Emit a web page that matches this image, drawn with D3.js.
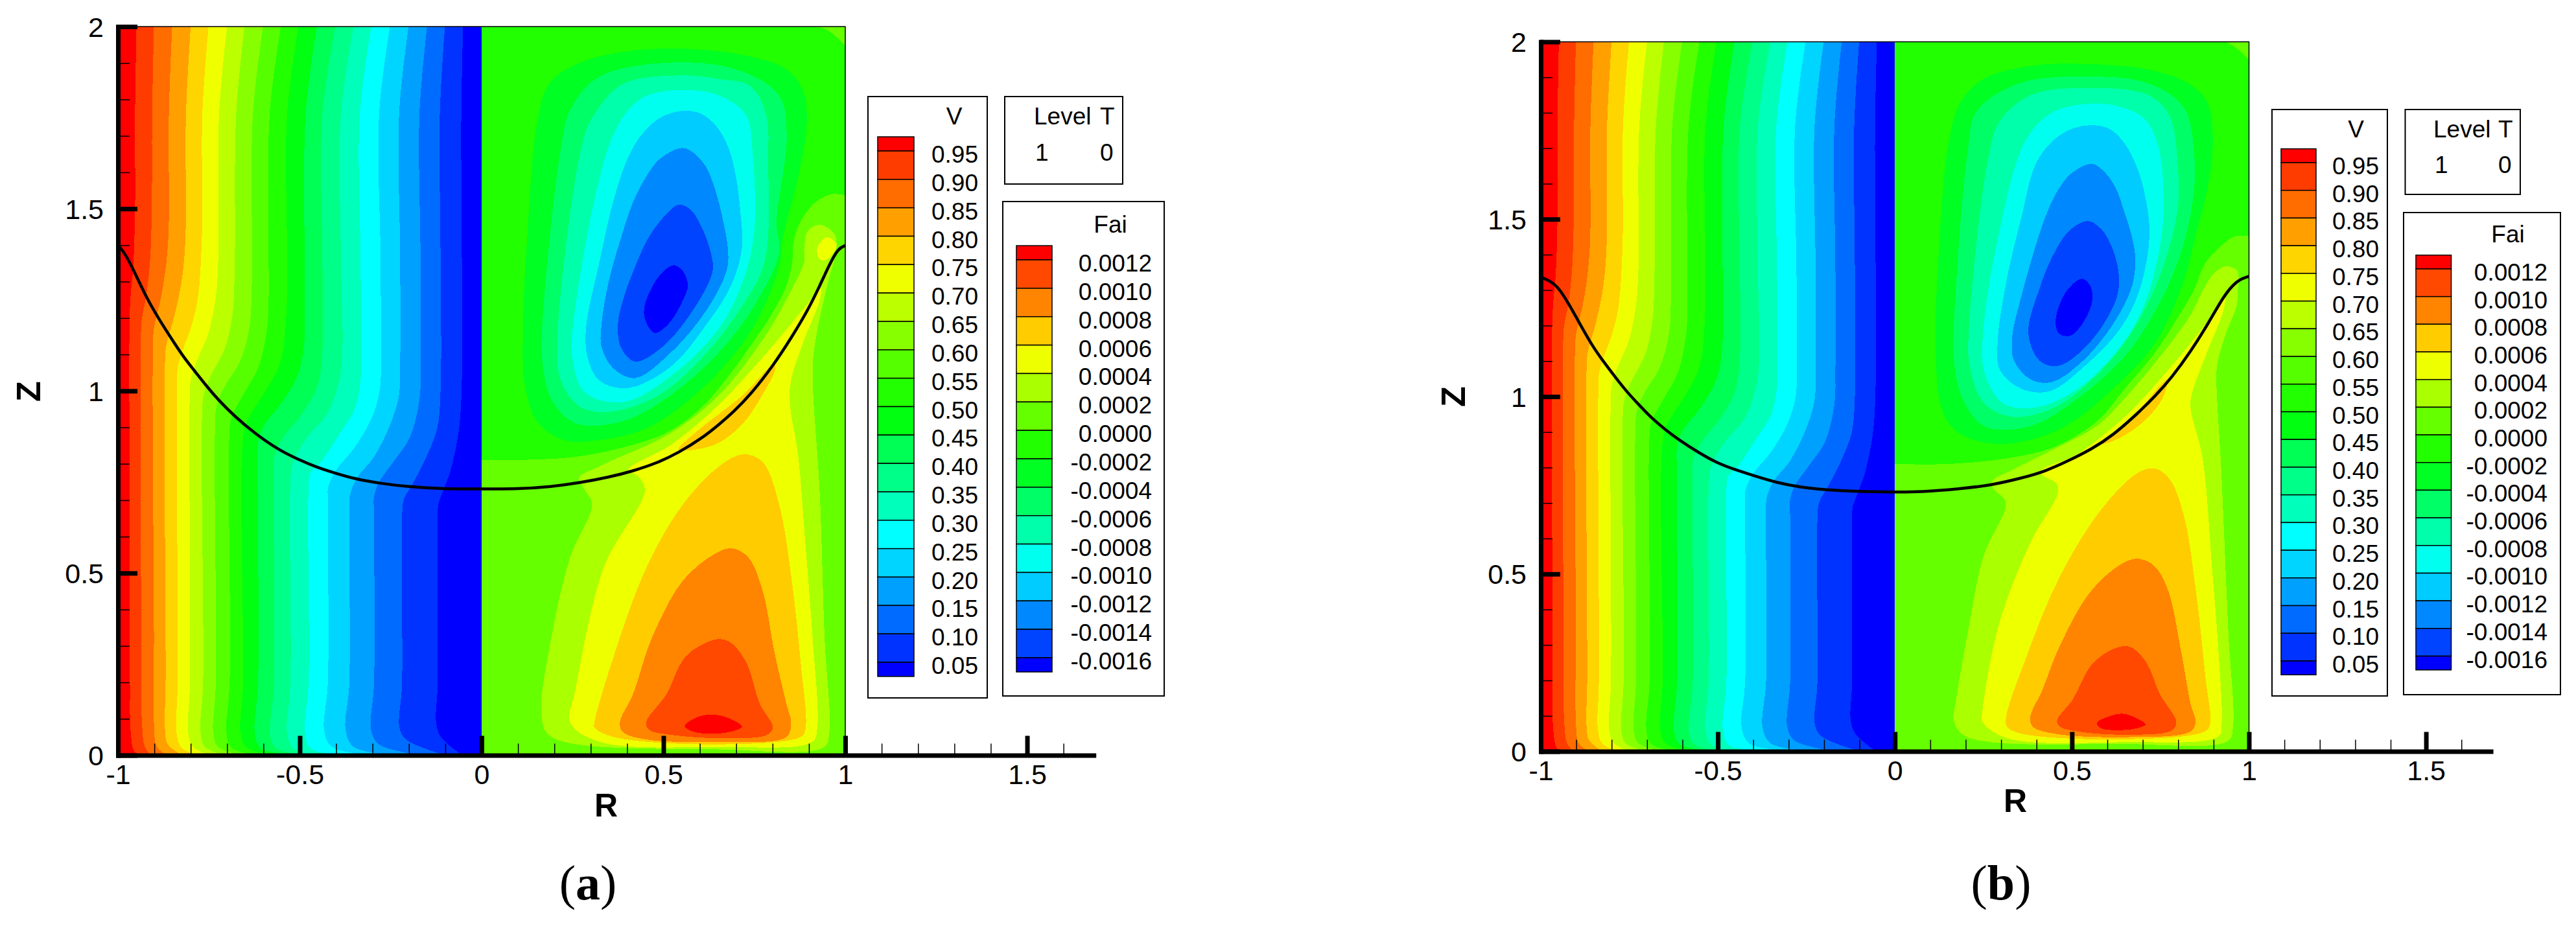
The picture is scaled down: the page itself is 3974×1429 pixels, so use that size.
<!DOCTYPE html>
<html>
<head>
<meta charset="utf-8">
<script src="https://cdn.jsdelivr.net/npm/d3@7"></script>
<style>
  html, body { margin: 0; background: #fff; }
  text { font-family: "Liberation Sans", Arial, sans-serif; fill: #000; }
</style>
</head>
<body>
<svg id="fig" width="3974" height="1429"></svg>
<script>
// AXIS TICKS
var rMajor = [-1, -0.5, 0, 0.5, 1, 1.5];
var rMinor = [-0.9,-0.8,-0.7,-0.6,-0.4,-0.3,-0.2,-0.1,0.1,0.2,0.3,0.4,0.6,0.7,0.8,0.9,1.1,1.2,1.3,1.4,1.6];
var zMajor = [0, 0.5, 1, 1.5, 2];
var zMinor = [0.1,0.2,0.3,0.4,0.6,0.7,0.8,0.9,1.1,1.2,1.3,1.4,1.6,1.7,1.8,1.9];

// LEGEND LEVELS AND COLOURS
var vLevels = [0.95,0.90,0.85,0.80,0.75,0.70,0.65,0.60,0.55,0.50,0.45,0.40,0.35,0.30,0.25,0.20,0.15,0.10,0.05];
var vColors = ["#ff0000","#ff3c00","#ff6c00","#ffa000","#ffd500","#f0ff00","#bbff00","#88ff00","#55ff00","#22ff00",
               "#00ff11","#00ff55","#00ff88","#00ffbb","#00ffff","#00d5ff","#00a0ff","#006cff","#0033ff","#0000ff"];
var faiLevels = [0.0012,0.0010,0.0008,0.0006,0.0004,0.0002,0,-0.0002,-0.0004,-0.0006,-0.0008,-0.0010,-0.0012,-0.0014,-0.0016];
var faiColors = ["#ff0000","#ff4800","#ff8400","#ffcc00","#eeff00","#aaff00","#66ff00","#22ff00",
                 "#00ff22","#00ff66","#00ffaa","#00ffee","#00ccff","#0088ff","#0044ff","#0000ff"];

// V CONTOURS, LEFT HALF. [R, Z], one list per level from 0.95 down to 0.05.
// Both panels read the same here within a pixel or two.
var vLines = [
  [[-.949,2],[-.953,1.759],[-.953,1.498],[-.958,1.341],[-.965,1.263],[-.968,1.198],[-.968,.715],[-.967,.193],[-.965,.063],[-.955,.01],[-.939,0]],
  [[-.901,2],[-.906,1.759],[-.907,1.498],[-.912,1.354],[-.922,1.263],[-.935,1.191],[-.937,1.106],[-.936,.324],[-.934,.089],[-.926,.023],[-.909,0]],
  [[-.851,2],[-.860,1.759],[-.861,1.432],[-.870,1.328],[-.883,1.25],[-.901,1.172],[-.904,1.106],[-.901,.324],[-.901,.089],[-.893,.023],[-.863,0]],
  [[-.800,2],[-.813,1.759],[-.815,1.406],[-.827,1.289],[-.847,1.198],[-.867,1.126],[-.871,1.067],[-.869,.193],[-.871,.076],[-.863,.03],[-.824,0]],
  [[-.751,2],[-.768,1.759],[-.769,1.432],[-.781,1.25],[-.800,1.172],[-.824,1.106],[-.836,1.061],[-.838,.989],[-.836,.193],[-.839,.063],[-.827,.023],[-.784,0]],
  [[-.700,2],[-.722,1.759],[-.725,1.341],[-.732,1.25],[-.751,1.159],[-.784,1.08],[-.800,1.028],[-.803,.963],[-.802,.193],[-.807,.063],[-.794,.023],[-.745,0]],
  [[-.652,2],[-.675,1.759],[-.679,1.341],[-.685,1.211],[-.705,1.119],[-.745,1.041],[-.764,.989],[-.769,.924],[-.766,.193],[-.773,.063],[-.761,.023],[-.705,0]],
  [[-.601,2],[-.629,1.759],[-.632,1.289],[-.639,1.172],[-.665,1.08],[-.705,1.015],[-.728,.963],[-.733,.898],[-.731,.193],[-.738,.063],[-.725,.023],[-.659,0]],
  [[-.552,2],[-.583,1.759],[-.586,1.237],[-.590,1.172],[-.613,1.067],[-.656,.989],[-.689,.924],[-.694,.871],[-.693,.193],[-.702,.063],[-.689,.021],[-.613,0]],
  [[-.504,2],[-.535,1.759],[-.535,1.367],[-.537,1.211],[-.553,1.08],[-.593,1.002],[-.642,.924],[-.656,.871],[-.656,.193],[-.663,.063],[-.646,.021],[-.560,0]],
  [[-.453,2],[-.484,1.759],[-.486,1.237],[-.489,1.119],[-.507,1.041],[-.553,.963],[-.600,.904],[-.615,.858],[-.616,.793],[-.615,.193],[-.624,.063],[-.609,.021],[-.507,0]],
  [[-.402,2],[-.438,1.759],[-.438,1.367],[-.436,1.211],[-.438,1.106],[-.451,1.015],[-.494,.937],[-.547,.871],[-.570,.819],[-.572,.754],[-.571,.193],[-.581,.05],[-.563,.017],[-.455,0]],
  [[-.352,2],[-.387,1.759],[-.387,1.367],[-.383,1.106],[-.392,1.028],[-.425,.937],[-.481,.871],[-.520,.800],[-.526,.741],[-.526,.193],[-.535,.063],[-.517,.017],[-.408,0]],
  [[-.303,2],[-.335,1.759],[-.333,1.367],[-.331,1.106],[-.333,1.028],[-.349,.95],[-.389,.885],[-.441,.806],[-.471,.774],[-.476,.728],[-.476,.193],[-.486,.063],[-.468,.017],[-.356,0]],
  [[-.252,2],[-.282,1.759],[-.278,1.367],[-.277,1.106],[-.280,1.002],[-.303,.924],[-.349,.845],[-.402,.78],[-.422,.735],[-.423,.702],[-.423,.193],[-.433,.069],[-.412,.023],[-.296,0]],
  [[-.201,2],[-.227,1.759],[-.224,1.367],[-.224,1.08],[-.227,.989],[-.250,.911],[-.296,.819],[-.343,.761],[-.362,.715],[-.364,.676],[-.364,.193],[-.374,.069],[-.352,.023],[-.231,0]],
  [[-.150,2],[-.171,1.759],[-.168,1.367],[-.168,1.08],[-.171,.976],[-.198,.871],[-.237,.813],[-.283,.748],[-.296,.708],[-.296,.663],[-.296,.193],[-.304,.069],[-.283,.03],[-.165,0]],
  [[-.101,2],[-.115,1.759],[-.113,1.367],[-.113,1.002],[-.122,.898],[-.152,.819],[-.192,.741],[-.214,.702],[-.219,.65],[-.219,.193],[-.226,.076],[-.208,.043],[-.099,0]],
  [[-.051,2],[-.056,1.759],[-.056,.976],[-.066,.871],[-.086,.78],[-.105,.728],[-.119,.689],[-.121,.637],[-.121,.193],[-.125,.089],[-.112,.05],[-.053,0]]
];

// INTERFACE LINES
var aInterface = [[-1,1.40],[-.982,1.38],[-.955,1.328],[-.922,1.256],[-.886,1.195],[-.856,1.148],[-.82,1.093],[-.791,1.057],[-.758,1.015],[-.725,.976],[-.679,.93],[-.626,.885],[-.56,.839],[-.507,.813],[-.455,.791],[-.402,.774],[-.343,.757],[-.277,.746],[-.204,.737],[-.105,.731],[0,.731],[.1,.731],[.192,.737],[.271,.748],[.35,.763],[.416,.78],[.482,.802],[.541,.83],[.607,.871],[.653,.908],[.693,.943],[.739,.989],[.805,1.074],[.851,1.145],[.897,1.221],[.93,1.289],[.957,1.348],[.98,1.391],[1,1.399]];
var bInterface = [[-1,1.337],[-.972,1.325],[-.949,1.306],[-.922,1.263],[-.889,1.204],[-.856,1.145],[-.822,1.097],[-.789,1.054],[-.756,1.012],[-.722,.976],[-.689,.941],[-.649,.907],[-.61,.878],[-.556,.843],[-.503,.813],[-.449,.793],[-.389,.774],[-.336,.758],[-.27,.745],[-.196,.737],[-.103,.732],[0,.731],[.072,.731],[.185,.74],[.271,.75],[.357,.77],[.424,.789],[.49,.819],[.556,.852],[.616,.891],[.683,.95],[.736,1.002],[.782,1.054],[.835,1.126],[.888,1.211],[.928,1.282],[.955,1.315],[.975,1.331],[1,1.339]];

// FAI CONTOURS, RIGHT HALF, PANEL (a). Named after the colour index they fill.
var aWedge = [[.917,2],[.95,1.991],[1,1.948]];
var aEdge7 = [[1,1.537],[.963,1.54],[.917,1.517],[.877,1.465],[.857,1.406],[.854,1.354],[.838,1.289],[.798,1.211],[.745,1.132],[.679,1.041],[.600,.950],[.508,.885],[.389,.845],[.258,.819],[.126,.811],[0,.811]];
var aFai5 = [[.887,1.393],[.897,1.439],[.930,1.456],[.969,1.432],[.976,1.393],[.950,1.289],[.917,1.132],[.910,1.054],[.930,.715],[.943,.324],[.956,.063],[.943,.023],[.653,.016],[.192,.05],[.165,.102],[.192,.324],[.244,.545],[.304,.689],[.284,.728],[.268,.761],[.324,.793],[.521,.885],[.653,.989],[.785,1.159],[.851,1.276],[.887,1.354]];
var aFai4 = [[.933,1.282],[.930,1.25],[.884,1.132],[.847,1.002],[.871,.819],[.890,.584],[.910,.324],[.923,.076],[.910,.037],[.653,.023],[.324,.037],[.244,.089],[.258,.18],[.337,.519],[.449,.728],[.429,.767],[.403,.783],[.521,.852],[.653,.963],[.785,1.106],[.884,1.224]];
var aFai4Spot = [[.923,1.393],[.950,1.422],[.976,1.40],[.950,1.361],[.930,1.361]];
var aFai3 = [[.310,.089],[.363,.271],[.455,.519],[.554,.689],[.653,.793],[.719,.826],[.772,.806],[.818,.689],[.851,.493],[.877,.258],[.890,.069],[.877,.05],[.653,.03],[.363,.05],[.310,.076]];
var aFai3Sliver = [[.541,.839],[.587,.885],[.653,.937],[.719,.989],[.805,1.074],[.808,1.061],[.772,.989],[.719,.911],[.653,.858],[.587,.839]];
var aFai2 = [[.380,.089],[.416,.167],[.469,.324],[.554,.48],[.640,.552],[.686,.568],[.732,.545],[.772,.454],[.805,.284],[.838,.141],[.851,.089],[.838,.05],[.653,.037],[.455,.043],[.389,.063]];
var aFai1 = [[.452,.089],[.508,.167],[.561,.271],[.640,.317],[.679,.313],[.726,.258],[.765,.141],[.801,.076],[.785,.056],[.653,.047],[.521,.056],[.462,.069]];
var aFai0 = [[.558,.08],[.587,.102],[.633,.112],[.686,.099],[.716,.078],[.686,.065],[.633,.059],[.581,.065]];
var aFai8 = [[.554,1.939],[.389,1.931],[.258,1.896],[.185,1.843],[.152,1.733],[.126,1.432],[.114,1.185],[.119,1.015],[.152,.917],[.225,.865],[.324,.865],[.455,.898],[.587,.989],[.719,1.132],[.785,1.25],[.821,1.354],[.828,1.419],[.871,1.589],[.894,1.733],[.884,1.824],[.838,1.883],[.719,1.922]];
var aFai9 = [[.554,1.902],[.324,1.863],[.244,1.772],[.218,1.667],[.167,1.185],[.167,1.08],[.192,.976],[.258,.911],[.389,.917],[.521,.989],[.653,1.106],[.752,1.237],[.818,1.38],[.811,1.459],[.839,1.706],[.818,1.811],[.719,1.876]];
var aFai10 = [[.554,1.866],[.389,1.843],[.310,1.759],[.277,1.68],[.208,1.132],[.218,1.028],[.271,.956],[.357,.943],[.488,.989],[.620,1.106],[.719,1.237],[.778,1.354],[.788,1.628],[.782,1.759],[.739,1.837],[.653,1.856]];
var aFai11 = [[.554,1.826],[.442,1.804],[.363,1.706],[.249,1.159],[.251,1.08],[.284,.995],[.389,.969],[.521,1.041],[.653,1.172],[.719,1.302],[.749,1.432],[.745,1.654],[.726,1.759],[.653,1.811]];
var aFai12 = [[.561,1.769],[.607,1.759],[.646,1.726],[.679,1.667],[.699,1.589],[.712,1.485],[.716,1.393],[.686,1.289],[.620,1.185],[.521,1.067],[.403,1.008],[.324,1.028],[.291,1.093],[.287,1.172],[.324,1.354],[.363,1.524],[.403,1.641],[.442,1.706],[.495,1.752]];
var aFai13 = [[.551,1.667],[.587,1.650],[.617,1.615],[.643,1.550],[.663,1.472],[.678,1.380],[.673,1.328],[.620,1.224],[.521,1.106],[.422,1.035],[.363,1.061],[.330,1.119],[.330,1.185],[.350,1.302],[.383,1.419],[.416,1.517],[.449,1.582],[.488,1.635]];
var aFai14 = [[.541,1.511],[.574,1.498],[.607,1.445],[.630,1.380],[.635,1.328],[.574,1.211],[.495,1.119],[.422,1.08],[.383,1.119],[.375,1.185],[.389,1.25],[.422,1.341],[.462,1.426],[.508,1.485]];
var aFai15 = [[.528,1.345],[.488,1.315],[.449,1.237],[.449,1.198],[.475,1.159],[.515,1.185],[.554,1.25],[.567,1.289],[.554,1.328]];

// FAI CONTOURS, RIGHT HALF, PANEL (b)
var bWedge = [[.935,2],[.968,1.98],[1,1.95]];
var bEdge7 = [[1,1.452],[.961,1.452],[.915,1.419],[.875,1.374],[.842,1.295],[.795,1.217],[.736,1.126],[.649,1.022],[.570,.93],[.45,.858],[.317,.826],[.151,.81],[0,.81]];
var bFai5 = [[.902,1.348],[.935,1.367],[.967,1.354],[.968,1.295],[.965,1.256],[.935,1.178],[.912,1.1],[.908,1.061],[.922,.787],[.942,.33],[.955,.069],[.942,.03],[.649,.021],[.198,.043],[.166,.089],[.171,.134],[.205,.33],[.251,.552],[.311,.682],[.311,.708],[.278,.741],[.274,.761],[.331,.793],[.45,.852],[.57,.917],[.649,.995],[.749,1.113],[.835,1.23],[.875,1.309]];
var bFai4 = [[.932,1.282],[.928,1.243],[.882,1.126],[.839,1.008],[.835,.969],[.869,.826],[.895,.526],[.915,.265],[.923,.082],[.915,.043],[.649,.026],[.317,.037],[.248,.082],[.248,.121],[.297,.369],[.384,.591],[.46,.728],[.457,.754],[.41,.787],[.517,.839],[.649,.943],[.782,1.087],[.882,1.211]];
var bFai3 = [[.314,.095],[.371,.265],[.463,.487],[.583,.682],[.689,.787],[.736,.797],[.776,.767],[.815,.669],[.849,.461],[.878,.2],[.89,.076],[.875,.056],[.649,.034],[.357,.05],[.317,.069]];
var bFai3Sliver = [[.576,.868],[.623,.904],[.689,.963],[.769,1.048],[.756,.995],[.703,.93],[.649,.891],[.596,.868]];
var bFai2 = [[.382,.095],[.417,.174],[.463,.291],[.55,.447],[.636,.526],[.683,.543],[.729,.526],[.769,.461],[.809,.278],[.835,.134],[.849,.082],[.835,.056],[.649,.04],[.45,.05],[.39,.069]];
var bFai1 = [[.458,.086],[.503,.147],[.556,.245],[.623,.291],[.663,.295],[.709,.252],[.749,.16],[.795,.082],[.782,.059],[.649,.047],[.517,.056],[.467,.069]];
var bFai0 = [[.57,.08],[.603,.098],[.643,.106],[.683,.093],[.708,.076],[.683,.065],[.636,.06],[.583,.065]];
var bFai8 = [[.55,1.937],[.384,1.932],[.251,1.896],[.185,1.83],[.151,1.713],[.122,1.374],[.115,1.139],[.131,.969],[.171,.904],[.251,.871],[.351,.871],[.483,.917],[.616,1.022],[.736,1.152],[.815,1.322],[.849,1.452],[.882,1.582],[.898,1.713],[.882,1.83],[.829,1.883],[.716,1.922]];
var bFai9 = [[.55,1.902],[.351,1.883],[.231,1.804],[.205,1.687],[.166,1.191],[.166,1.113],[.185,1.008],[.251,.917],[.384,.917],[.517,.995],[.649,1.113],[.729,1.23],[.802,1.387],[.842,1.556],[.845,1.687],[.815,1.817],[.716,1.883]];
var bFai10 = [[.55,1.87],[.384,1.85],[.297,1.778],[.264,1.674],[.209,1.191],[.211,1.087],[.251,.982],[.331,.943],[.45,.969],[.583,1.074],[.683,1.204],[.756,1.361],[.799,1.53],[.799,1.648],[.776,1.791],[.716,1.85]];
var bFai11 = [[.563,1.826],[.45,1.804],[.371,1.726],[.284,1.413],[.248,1.165],[.251,1.074],[.304,.982],[.397,.969],[.517,1.022],[.636,1.139],[.703,1.256],[.749,1.426],[.759,1.556],[.742,1.713],[.703,1.785],[.636,1.817]];
var bFai12 = [[.563,1.765],[.610,1.752],[.649,1.713],[.683,1.648],[.706,1.569],[.719,1.452],[.689,1.295],[.636,1.191],[.537,1.087],[.437,1.015],[.357,1.022],[.297,1.074],[.29,1.152],[.317,1.335],[.357,1.504],[.397,1.654],[.444,1.719],[.503,1.756]];
var bFai13 = [[.556,1.656],[.590,1.635],[.623,1.589],[.649,1.517],[.669,1.452],[.679,1.387],[.669,1.309],[.616,1.204],[.53,1.1],[.444,1.041],[.384,1.048],[.337,1.1],[.331,1.165],[.357,1.282],[.390,1.400],[.424,1.504],[.457,1.576],[.497,1.628]];
var bFai14 = [[.543,1.495],[.583,1.472],[.616,1.413],[.633,1.335],[.623,1.269],[.55,1.152],[.463,1.087],[.41,1.1],[.377,1.178],[.41,1.309],[.444,1.393],[.49,1.465]];
var bFai15 = [[.527,1.332],[.483,1.295],[.454,1.217],[.463,1.178],[.497,1.172],[.537,1.217],[.558,1.276],[.55,1.315]];

var svg = d3.select("#fig");

function drawPanel(p) {
  var x = d3.scaleLinear().domain([-1, 1.683]).range(p.xRange);
  var y = d3.scaleLinear().domain([0, 2]).range(p.yRange);
  var g = svg.append("g").attr("class", "panel " + p.id);

  var line = d3.line().x(function(d) { return x(d[0]); }).y(function(d) { return y(d[1]); })
    .curve(d3.curveCatmullRom.alpha(0.5));
  var loop = d3.line().x(function(d) { return x(d[0]); }).y(function(d) { return y(d[1]); })
    .curve(d3.curveCatmullRomClosed.alpha(0.5));
  // the interface is read point by point, a basis spline irons out the reading noise
  var smooth = d3.line().x(function(d) { return x(d[0]); }).y(function(d) { return y(d[1]); })
    .curve(d3.curveBasis);

  // clip each half so that the spline overshoot stays inside
  svg.append("clipPath").attr("id", "left" + p.id).append("rect")
    .attr("x", x(-1)).attr("y", y(2)).attr("width", x(0) - x(-1)).attr("height", y(0) - y(2));
  svg.append("clipPath").attr("id", "right" + p.id).append("rect")
    .attr("x", x(0)).attr("y", y(2)).attr("width", x(1) - x(0)).attr("height", y(0) - y(2));

  // LEFT HALF: V
  var left = g.append("g").attr("clip-path", "url(#left" + p.id + ")").attr("shape-rendering", "crispEdges");
  left.append("rect").attr("x", x(-1)).attr("y", y(2)).attr("width", x(0) - x(-1)).attr("height", y(0) - y(2))
    .attr("fill", vColors[0]);
  left.selectAll("path").data(vLines).enter().append("path")
    .attr("fill", function(d, i) { return vColors[i + 1]; })
    .attr("d", function(d) { return line(d) + "L" + x(0) + "," + y(0) + "L" + x(0) + "," + y(2) + "Z"; });

  // RIGHT HALF: FAI
  var right = g.append("g").attr("clip-path", "url(#right" + p.id + ")").attr("shape-rendering", "crispEdges");
  right.append("rect").attr("x", x(0)).attr("y", y(2)).attr("width", x(1) - x(0)).attr("height", y(0) - y(2))
    .attr("fill", faiColors[6]);
  right.append("path").attr("fill", faiColors[7])
    .attr("d", "M" + x(0) + "," + y(2) + line(p.wedge).replace("M", "L") + line(p.edge).replace("M", "L") + "Z");
  right.selectAll("path.fai").data(p.regions).enter().append("path")
    .attr("class", "fai")
    .attr("fill", function(d) { return faiColors[d.c]; })
    .attr("d", function(d) { return loop(d.pts); });

  // INTERFACE
  g.append("path").attr("d", smooth(p.iface)).attr("fill", "none").attr("stroke", "#000").attr("stroke-width", 4.5);

  // FRAME
  g.append("path").attr("fill", "none").attr("stroke", "#000").attr("stroke-width", 1.5)
    .attr("d", "M" + x(-1) + "," + y(2) + "H" + x(1) + "V" + y(0));

  // AXES
  var xMinor = g.append("g").attr("transform", "translate(0," + y(0) + ")")
    .call(d3.axisBottom(x).tickValues(rMinor).tickSize(-18).tickFormat(""));
  xMinor.select(".domain").remove();
  xMinor.selectAll("line").attr("stroke-width", 1.5);
  var yMinor = g.append("g").attr("transform", "translate(" + x(-1) + ",0)")
    .call(d3.axisLeft(y).tickValues(zMinor).tickSize(-18).tickFormat(""));
  yMinor.select(".domain").remove();
  yMinor.selectAll("line").attr("stroke-width", 1.5);

  var xAxis = g.append("g").attr("transform", "translate(0," + y(0) + ")")
    .call(d3.axisBottom(x).tickValues(rMajor).tickSizeInner(-30).tickSizeOuter(0).tickFormat(function(d) { return d; }));
  var yAxis = g.append("g").attr("transform", "translate(" + x(-1) + ",0)")
    .call(d3.axisLeft(y).tickValues(zMajor).tickSizeInner(-30).tickSizeOuter(0).tickFormat(function(d) { return d; }));
  [xAxis, yAxis].forEach(function(a) {
    a.select(".domain").attr("stroke-width", 7).attr("stroke-linecap", "square");
    a.selectAll("line").attr("stroke-width", 7);
    a.selectAll("text").attr("font-size", 43).style("font-family", "Liberation Sans");
  });
  xAxis.selectAll("text").attr("y", 44.5).attr("dy", 0);
  yAxis.selectAll("text").attr("x", -22).attr("dy", "0.35em");

  g.append("text").attr("x", p.rLabel[0]).attr("y", p.rLabel[1]).attr("text-anchor", "middle")
    .attr("font-size", 50).attr("font-weight", "bold").text("R");
  g.append("text").attr("transform", "translate(" + p.zLabel[0] + "," + p.zLabel[1] + ") rotate(-90)")
    .attr("text-anchor", "middle").attr("font-size", 52).attr("font-weight", "bold").text("Z");

  // CAPTION
  var cap = g.append("text").attr("x", p.caption[0]).attr("y", p.caption[1]).attr("text-anchor", "middle")
    .attr("font-size", 76).style("font-family", "Liberation Serif");
  cap.append("tspan").text("(");
  cap.append("tspan").attr("font-weight", "bold").text(p.id);
  cap.append("tspan").text(")");

  // LEGENDS
  drawLegend(g, p.vBox, vLevels, vColors, 2);
  drawLegend(g, p.faiBox, faiLevels, faiColors, 4);

  var l = p.levelBox;
  g.append("rect").attr("x", l.x0).attr("y", l.y0).attr("width", l.x1 - l.x0).attr("height", l.y1 - l.y0)
    .attr("fill", "#fff").attr("stroke", "#000").attr("stroke-width", 2);
  [["Level", l.col1, l.row1], ["T", l.col2, l.row1], ["1", l.col1 + 2, l.row2], ["0", l.col2, l.row2]].forEach(function(t) {
    g.append("text").attr("x", t[1]).attr("y", t[2]).attr("font-size", 37).text(t[0]);
  });
}

function drawLegend(g, b, levels, colors, digits) {
  g.append("rect").attr("x", b.x0).attr("y", b.y0).attr("width", b.x1 - b.x0).attr("height", b.y1 - b.y0)
    .attr("fill", "#fff").attr("stroke", "#000").attr("stroke-width", 2);
  var step = levels[0] - levels[1];
  var ly = d3.scaleLinear().domain([levels[0], levels[levels.length - 1]]).range([b.first, b.last]);
  var edges = [levels[0] + step / 2].concat(levels, [levels[levels.length - 1] - step / 2]);
  g.selectAll(null).data(colors).enter().append("rect")
    .attr("x", b.barX).attr("width", b.barW)
    .attr("y", function(d, i) { return ly(edges[i]); })
    .attr("height", function(d, i) { return ly(edges[i + 1]) - ly(edges[i]); })
    .attr("fill", function(d) { return d; })
    .attr("stroke", "#000").attr("stroke-width", 1.5);
  g.selectAll(null).data(levels).enter().append("text")
    .attr("x", b.labelX).attr("y", function(d) { return ly(d) + 18; })
    .attr("text-anchor", "end").attr("font-size", 37)
    .text(function(d) { return d.toFixed(digits); });
  g.append("text").attr("x", b.titleX).attr("y", b.titleY).attr("text-anchor", "middle").attr("font-size", 37).text(b.title);
}

function regions(a) {
  return a.map(function(r) { return {c: r[0], pts: r[1]}; });
}

drawPanel({
  id: "a", xRange: [182, 1687.2], yRange: [1165.5, 41],
  wedge: aWedge, edge: aEdge7, iface: aInterface,
  regions: regions([[5, aFai5], [4, aFai4], [4, aFai4Spot], [3, aFai3], [3, aFai3Sliver], [2, aFai2], [1, aFai1], [0, aFai0],
                    [8, aFai8], [9, aFai9], [10, aFai10], [11, aFai11], [12, aFai12], [13, aFai13], [14, aFai14], [15, aFai15]]),
  rLabel: [935, 1260], zLabel: [62, 604], caption: [907, 1388],
  vBox: {x0: 1339, x1: 1523, y0: 149, y1: 1077, barX: 1354, barW: 56, first: 233, last: 1022, labelX: 1509, titleX: 1472, titleY: 192, title: "V"},
  faiBox: {x0: 1547, x1: 1796, y0: 311, y1: 1074, barX: 1568, barW: 55, first: 401, last: 1015, labelX: 1777, titleX: 1713, titleY: 359, title: "Fai"},
  levelBox: {x0: 1550, x1: 1732, y0: 149, y1: 284, col1: 1595, col2: 1697, row1: 192, row2: 248}
});

drawPanel({
  id: "b", xRange: [2377, 3842.6], yRange: [1159.5, 64.5],
  wedge: bWedge, edge: bEdge7, iface: bInterface,
  regions: regions([[5, bFai5], [4, bFai4], [3, bFai3], [3, bFai3Sliver], [2, bFai2], [1, bFai1], [0, bFai0],
                    [8, bFai8], [9, bFai9], [10, bFai10], [11, bFai11], [12, bFai12], [13, bFai13], [14, bFai14], [15, bFai15]]),
  rLabel: [3109, 1253], zLabel: [2260, 612], caption: [3087, 1388],
  vBox: {x0: 3505, x1: 3683, y0: 169, y1: 1074, barX: 3519, barW: 54, first: 251, last: 1020, labelX: 3670, titleX: 3634.5, titleY: 211.5, title: "V"},
  faiBox: {x0: 3708, x1: 3950, y0: 328, y1: 1072, barX: 3727, barW: 54.5, first: 415, last: 1012.5, labelX: 3930, titleX: 3869, titleY: 374, title: "Fai"},
  levelBox: {x0: 3710.5, x1: 3888, y0: 169, y1: 300, col1: 3754, col2: 3854, row1: 211.5, row2: 267}
});
</script>
</body>
</html>
